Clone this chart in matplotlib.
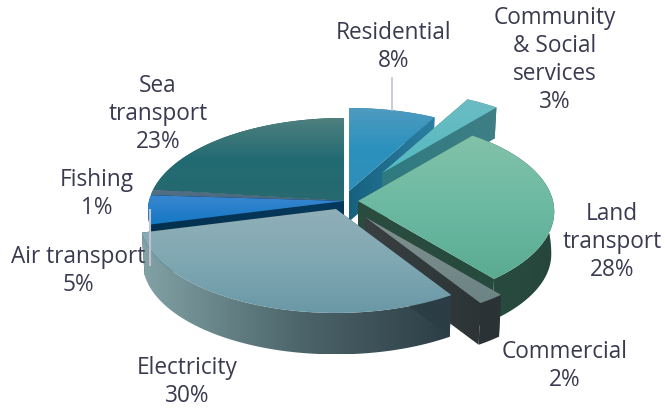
import numpy as np
from matplotlib import pyplot as plt
from matplotlib.colors import LinearSegmentedColormap
from matplotlib.patches import Polygon

# Energy use by sector, clockwise from twelve o'clock
sectors = ['Residential', 'Community\n& Social\nservices', 'Land\ntransport', 'Commercial',
           'Electricity', 'Air transport', 'Fishing', 'Sea\ntransport']
shares = [8, 3, 28, 2, 30, 5, 1, 23]

# Where each slice's point ends up once the pie is pulled apart
apexes = [(349, 191), (382, 173), (358, 201), (365, 217), (336, 209), (344, 201), (344, 201), (344, 201)]
labelPos = [(394, 47), (555, 60), (612, 242), (565, 366), (187, 382), (78, 271), (97, 194), (158, 114)]
drawOrder = [7, 6, 5, 0, 1, 2, 3, 4]

# top colours (vertical), outer wall (horizontal), cut face (horizontal)
topColors = [['#4f9bc0', '#2b92bd', '#2f8fb8'], ['#6cbcc2', '#54bac2'], ['#82c2a9', '#6cb9a2', '#5aab92'],
             ['#80908e', '#6c8484'], ['#90afb8', '#7fa8b3', '#6b98a6'], ['#3a86d0', '#1478c4'],
             ['#55738a', '#46667c'], ['#50807f', '#226b73', '#27696f']]
wallColors = [['#1d6a8c', '#2b7ba0'], ['#3a7c82', '#487d82'], ['#2a4d40', '#26463b'],
              ['#2b3335', '#2b3335'], ['#82a2a6', '#4d666b', '#2c3d45'], ['#03304f', '#03304f'],
              ['#2d4a5c', '#2d4a5c'], ['#1d5055', '#1d5055']]
cutColors = [['#17617f', '#2c7fa2'], ['#2f7a80', '#3f7f86'], ['#2a4d40', '#264a3d'],
             ['#3a4042', '#2c3436'], ['#2c3d45', '#2c3d45'], ['#04304f', '#063a5c'],
             ['#2d4a5c', '#2d4a5c'], ['#1d5055', '#1d5055']]

RX, RY, PERSP = 195, 92.3, 0.112
BOTTOM_SCALE = 0.985
textColor = '#3a3a50'
leaderColor = '#c3c0d2'


def rimOffset(angle):
    u, v = np.sin(angle), np.cos(angle)
    s = 1/(1 + PERSP*v)
    return np.column_stack((RX*u*s, -RY*v*s))


def wallDepth(y):
    return np.clip(30 + 0.6*(y - 190), 30, 43)


def gradientFill(ax, pts, colors, horizontal, z):
    cmap = LinearSegmentedColormap.from_list('g', colors)
    x0, y0 = pts.min(axis=0)
    x1, y1 = pts.max(axis=0)
    ramp = np.linspace(0, 1, 256)
    ramp = ramp[None, :] if horizontal else ramp[:, None]
    img = ax.imshow(ramp, cmap=cmap, extent=(x0, x1, y1, y0), aspect='auto', zorder=z, interpolation='bilinear')
    img.set_clip_path(Polygon(pts, closed=True, transform=ax.transData))


def lowered(points, apex):
    pts = apex + (points - apex)*BOTTOM_SCALE
    pts[:, 1] += wallDepth(points[:, 1])
    return pts


def drawSlice(ax, i, a0, a1, z):
    apex = np.array(apexes[i], dtype=float)
    angles = np.linspace(a0, a1, 60)
    rim = apex + rimOffset(angles)

    def cutFace(corner):
        top = np.vstack((apex, corner))
        return np.vstack((top, lowered(top, apex)[::-1]))

    faces = [(rim[0][1], cutFace(rim[0]), cutColors[i]), (rim[-1][1], cutFace(rim[-1]), cutColors[i])]
    faces.sort(key=lambda f: f[0])

    gradientFill(ax, faces[0][1], faces[0][2], True, z)
    gradientFill(ax, np.vstack((rim, lowered(rim, apex)[::-1])), wallColors[i], True, z + 0.1)
    gradientFill(ax, faces[1][1], faces[1][2], True, z + 0.2)
    gradientFill(ax, np.vstack((apex, rim)), topColors[i], False, z + 0.3)


plt.rcParams['font.family'] = ['Open Sans', 'DejaVu Sans']
fig = plt.figure(figsize=(6.65, 4.09), dpi=100)
ax = fig.add_axes([0, 0, 1, 1])

edges = np.radians(np.cumsum([0] + shares)*360/sum(shares))
for z, i in enumerate(drawOrder):
    drawSlice(ax, i, edges[i], edges[i + 1], z + 2)

# leader lines for the two labels that sit close to their slices
ax.plot([392, 392], [78, 110], color=leaderColor, lw=1.2, zorder=12)
ax.plot([149.5, 149.5], [210, 265], color=leaderColor, lw=1.5, zorder=12)

for name, share, (x, y) in zip(sectors, shares, labelPos):
    ax.text(x, y, f'{name}\n{share}%', ha='center', va='center', fontsize=16.3,
            color=textColor, linespacing=1.22, zorder=20)

ax.set_xlim(0, 665)
ax.set_ylim(409, 0)
ax.axis('off')
fig.savefig('out.png', dpi=100)
